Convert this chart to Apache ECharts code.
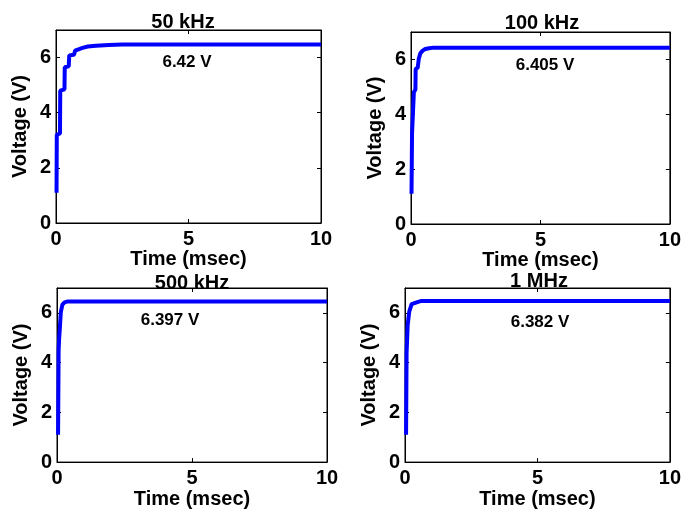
<!DOCTYPE html>
<html>
<head>
<meta charset="utf-8">
<script src="https://cdn.jsdelivr.net/npm/echarts@6/dist/echarts.min.js"></script>
<style>
  html, body { margin: 0; padding: 0; background: #fff; }
  #chart { width: 684px; height: 510px; }
</style>
</head>
<body>
<div id="chart"></div>
<script>
// panel titles and steady-state annotations
const titles = ['50 kHz', '100 kHz', '500 kHz', '1 MHz']
const finalLabels = ['6.42 V', '6.405 V', '6.397 V', '6.382 V']

// time (msec) / voltage (V)
const t50 = [0.02, 0.03, 0.05, 0.15, 0.16, 0.32, 0.33, 0.48, 0.5, 0.68, 0.72, 0.85, 1.0, 1.2, 1.5, 2.0, 2.5, 10]
const v50 = [1.1, 3.2, 3.2, 3.25, 4.8, 4.85, 5.65, 5.68, 6.08, 6.1, 6.25, 6.3, 6.35, 6.4, 6.43, 6.46, 6.47, 6.47]

const t100 = [0.02, 0.04, 0.1, 0.11, 0.17, 0.18, 0.26, 0.3, 0.36, 0.45, 0.55, 0.7, 0.87, 10]
const v100 = [1.1, 3.3, 3.35, 4.8, 4.9, 5.65, 5.7, 6.02, 6.22, 6.32, 6.38, 6.41, 6.43, 6.43]

const t500 = [0.04, 0.06, 0.08, 0.1, 0.14, 0.2, 0.28, 0.4, 10]
const v500 = [1.1, 4.5, 5.0, 5.3, 6.02, 6.33, 6.42, 6.46, 6.46]

const t1m = [0.04, 0.06, 0.1, 0.16, 0.25, 0.44, 0.62, 10]
const v1m = [1.1, 4.4, 5.5, 6.05, 6.35, 6.42, 6.48, 6.48]

const xTicks = { min: 0, max: 10, interval: 5 }
const yTicks = { min: 0, max: 7, interval: 2 }

const panels = [
  { t: t50, v: v50, grid: { left: 56, top: 30, width: 265, height: 193 }, titlePos: [183, 12], textPos: [187, 62] },
  { t: t100, v: v100, grid: { left: 411, top: 32, width: 260, height: 192 }, titlePos: [542, 13], textPos: [545, 65] },
  { t: t500, v: v500, grid: { left: 57, top: 288, width: 270, height: 182 }, titlePos: [192, 273], textPos: [170, 320] },
  { t: t1m, v: v1m, grid: { left: 405, top: 288, width: 267, height: 180 }, titlePos: [539, 271], textPos: [540, 322] },
]

const font = { fontFamily: 'Liberation Sans, Arial, sans-serif', fontWeight: 'bold', color: '#000' }
const line = { show: true, onZero: false, lineStyle: { color: '#000', width: 1 } }
const tick = { show: true, inside: true, length: 4, lineStyle: { color: '#000', width: 1 } }

const grid = [], xAxis = [], yAxis = [], series = [], title = [], graphic = []

panels.forEach((p, i) => {
  grid.push({ ...p.grid, show: true, borderColor: '#000', borderWidth: 1, backgroundColor: 'transparent' })
  const gx = 2 * i, gy = 2 * i
  xAxis.push({
    type: 'value', gridIndex: i, ...xTicks, position: 'bottom',
    name: 'Time (msec)', nameLocation: 'middle', nameGap: 15,
    nameTextStyle: { ...font, fontSize: 20 },
    axisLine: line, axisTick: tick, splitLine: { show: false },
    axisLabel: { ...font, fontSize: 20, margin: 6 },
  })
  xAxis.push({
    type: 'value', gridIndex: i, ...xTicks, position: 'top',
    axisLine: line, axisTick: tick, splitLine: { show: false }, axisLabel: { show: false },
  })
  yAxis.push({
    type: 'value', gridIndex: i, ...yTicks, position: 'left',
    name: 'Voltage (V)', nameLocation: 'middle', nameGap: 26, nameRotate: 90,
    nameTextStyle: { ...font, fontSize: 20 },
    axisLine: line, axisTick: tick, splitLine: { show: false },
    axisLabel: { ...font, fontSize: 20, margin: 5, formatter: v => (v % 2 === 0 ? v : '') },
  })
  yAxis.push({
    type: 'value', gridIndex: i, ...yTicks, position: 'right',
    axisLine: line, axisTick: tick, splitLine: { show: false }, axisLabel: { show: false },
  })
  series.push({
    type: 'line', xAxisIndex: gx, yAxisIndex: gy,
    data: p.t.map((t, k) => [t, p.v[k]]),
    showSymbol: false, smooth: false, silent: true,
    lineStyle: { color: '#0000ff', width: 4 },
  })
  title.push({
    text: titles[i], left: p.titlePos[0], top: p.titlePos[1], textAlign: 'center',
    textStyle: { ...font, fontSize: 20 }, padding: 0,
  })
  graphic.push({
    type: 'text', x: p.textPos[0], y: p.textPos[1],
    style: { text: finalLabels[i], fill: '#000', font: 'bold 17px Liberation Sans, Arial, sans-serif', align: 'center', verticalAlign: 'middle' },
  })
})

const chart = echarts.init(document.getElementById('chart'), null, { renderer: 'canvas' })
chart.setOption({
  animation: false,
  backgroundColor: '#fff',
  title, grid, xAxis, yAxis, series, graphic,
})
window.addEventListener('resize', () => chart.resize())
</script>
</body>
</html>
